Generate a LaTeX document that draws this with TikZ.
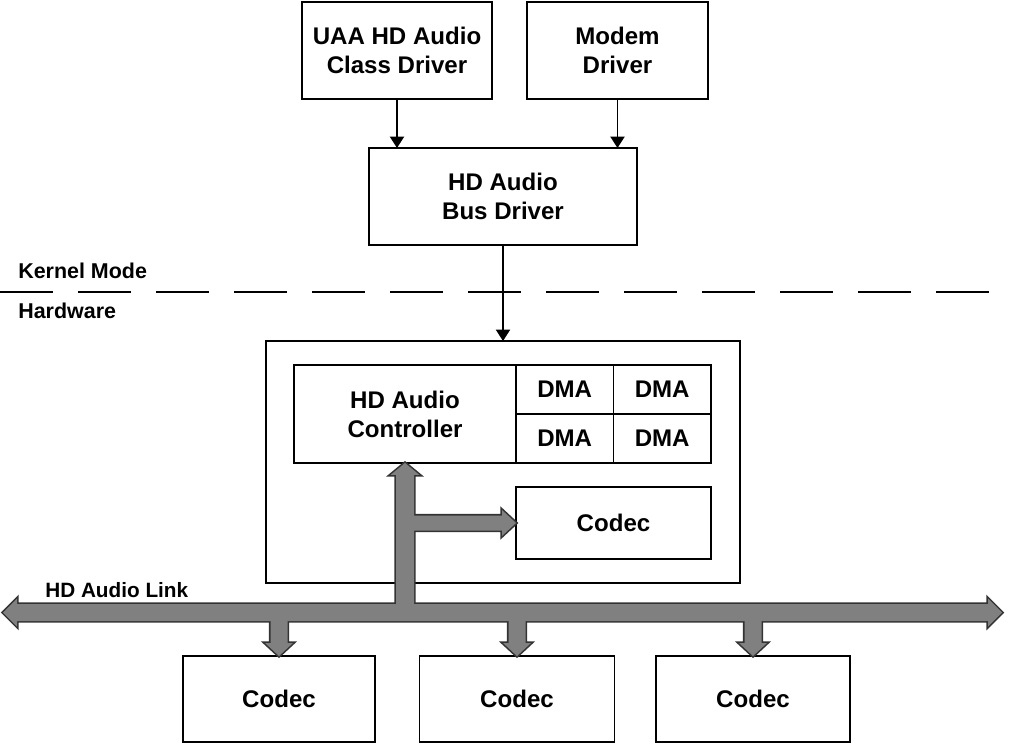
\documentclass[tikz,border=0pt]{standalone}
\usepackage{fontspec}
\setmainfont{Liberation Sans}
\usetikzlibrary{arrows.meta}
\usetikzlibrary{positioning}
\tikzset{box/.style = {draw, line width=1.1pt, align=center, inner sep=0pt, outer sep=0pt,
                       font=\fontsize{13.7}{16.4}\selectfont\bfseries}}
\tikzset{dma/.style = {box, minimum width=1.95cm, minimum height=0.98cm}}
\tikzset{codec/.style = {box, minimum width=3.84cm, minimum height=1.72cm}}
\tikzset{thin arrow/.style = {line width=1.1pt, -{Triangle[length=6.5pt,width=8pt]}}}
\tikzset{linkedge/.style = {draw=black!80, line width=1.8pt, fill=gray},
         linkfill/.style = {fill=gray}}
\tikzset{side/.style = {anchor=west, inner sep=0pt, font=\fontsize{12.2}{15}\selectfont\bfseries}}

\begin{document}
\begin{tikzpicture}[x=0.02cm, y=-0.02cm]
            \useasboundingbox (0,0) rectangle (1024,753);
            % software side
            \node[box, minimum width=3.8cm, minimum height=1.94cm] (uaa) at (397,50.5) {UAA HD Audio\\Class Driver};
            \node[box, minimum width=3.62cm, minimum height=1.94cm] (modem) at (617.5,50.5) {Modem\\Driver};
            \node[box, minimum width=5.36cm, minimum height=1.94cm] (busdrv) at (503,196.5) {HD Audio\\Bus Driver};
            \draw[thin arrow] (uaa.south) -- (uaa.south |- busdrv.north);
            \draw[thin arrow] (modem.south) -- (modem.south |- busdrv.north);
            % mode border
            \node[side] (kernel) at (18,271) {Kernel Mode};
            \node[side] (hardware) at (18,311) {Hardware};
            \draw[line width=1.7pt, dash pattern=on 1.06cm off 0.5cm] (0,292) -- (990,292);
            % hardware side
            \node[box, minimum width=9.48cm, minimum height=4.84cm] (hwbox) at (503,462) {};
            \draw[thin arrow] (busdrv.south) -- (hwbox.north);
            \node[box, minimum width=4.44cm, minimum height=1.96cm] (ctrl) at (405,414) {HD Audio\\Controller};
            \node[dma, anchor=north west] (dmaA) at (ctrl.north east) {DMA};
            \node[dma, right=0pt of dmaA] (dmaB) {DMA};
            \node[dma, below=0pt of dmaA] (dmaC) {DMA};
            \node[dma, below=0pt of dmaB] (dmaD) {DMA};
            \node[box, minimum width=3.9cm, minimum height=1.44cm] (codecIn) at (613.5,523) {Codec};
            \node[codec] (codecA) at (279,699) {Codec};
            \node[codec, minimum width=3.9cm] (codecB) at (517,699) {Codec};
            \node[codec, minimum width=3.88cm] (codecC) at (753,699) {Codec};
            \node[side, font=\fontsize{11.8}{14}\selectfont\bfseries] (linklabel) at (45,590) {HD Audio Link};
            % link bus, outlines first then fills
            \coordinate (linkL) at (3,612.5);
            \coordinate (linkR) at (1002,612.5);
            \foreach \st in {linkedge,linkfill} {
                \path[\st] (linkL) -- ++(14,-14) -- ++(0,5.5) -- ++(971,0) -- ++(0,-5.5) -- (linkR)
                           -- ++(-14,14) -- ++(0,-5.5) -- ++(-971,0) -- ++(0,5.5) -- cycle;
                \path[\st] (ctrl.south) -- ++(14.5,12) -- ++(-5.5,0) -- ++(0,137) -- ++(-18,0)
                           -- ++(0,-137) -- ++(-5.5,0) -- cycle;
                \path[\st] (codecIn.west) -- ++(-14,-13) -- ++(0,5.5) -- ++(-96,0) -- ++(0,15)
                           -- ++(96,0) -- ++(0,5.5) -- cycle;
                \path[\st] (codecA.north) -- ++(-14,-13) -- ++(5.5,0) -- ++(0,-30) -- ++(17,0)
                           -- ++(0,30) -- ++(5.5,0) -- cycle;
                \path[\st] (codecB.north) -- ++(-14,-13) -- ++(5.5,0) -- ++(0,-30) -- ++(17,0)
                           -- ++(0,30) -- ++(5.5,0) -- cycle;
                \path[\st] (codecC.north) -- ++(-14,-13) -- ++(5.5,0) -- ++(0,-30) -- ++(17,0)
                           -- ++(0,30) -- ++(5.5,0) -- cycle;
            }
        \end{tikzpicture}
\end{document}
